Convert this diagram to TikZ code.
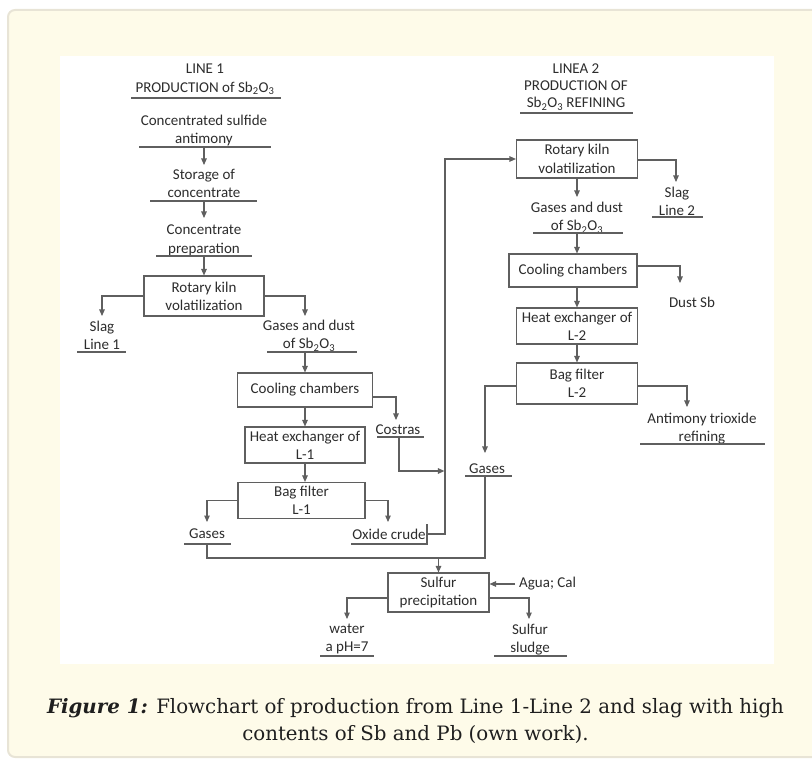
\documentclass[tikz,border=0pt]{standalone}
\usepackage{fontspec}
\setmainfont{Carlito}
\newfontfamily\capfont{DejaVu Serif}
\usetikzlibrary{arrows.meta}
\definecolor{framefill}{RGB}{254,251,233}
\definecolor{frameline}{RGB}{232,228,214}
\definecolor{ln}{RGB}{95,95,95}
\definecolor{tx}{RGB}{45,45,45}
\newcommand{\SbO}{Sb\textsubscript{2}O\textsubscript{3}}
\begin{document}
\begin{tikzpicture}[x=1pt,y=-1pt,
  every node/.style={text=tx, font=\fontsize{15}{18.3}\selectfont, inner sep=0pt},
  lbl/.style={align=center, anchor=north},
  box/.style={draw=ln, line width=1.1pt, align=center},
  conn/.style={draw=ln, line width=1.1pt},
  arr/.style={conn, -{Triangle[length=6.5pt,width=5.5pt]}},
  ul/.style={draw=ln, line width=1.1pt}]
\clip (0,0) rectangle (812,759);
% background
\fill[framefill, draw=frameline, line width=2pt, rounded corners=7pt] (8,10) rectangle (840,757);
\fill[white] (60,56) rectangle (774,664);

% ---------------- LINE 1 ----------------
\node[lbl] (h1) at (205,64) {LINE 1\\PRODUCTION of \SbO};
\draw[ul] (131,98) -- (281,98);

\node[lbl] (n1) at (204,115) {Concentrated sulfide\\antimony};
\draw[ul] (139,147) -- (271,147);
\coordinate (n1u) at (204,147);

\node[lbl] (n2) at (204,169) {Storage of\\concentrate};
\draw[ul] (150,201) -- (257,201);
\coordinate (n2u) at (204,201);

\node[lbl] (n3) at (204,225) {Concentrate\\preparation};
\draw[ul] (156,256) -- (252,256);
\coordinate (n3u) at (204,256);

\node[box, minimum width=120pt, minimum height=40pt] (rk1) at (204,296) {Rotary kiln\\volatilization};

\node[lbl] (slag1) at (102,321) {Slag\\Line 1};
\draw[ul] (77,352) -- (126,352);

\node[lbl] (gd1) at (309,320) {Gases and dust\\of \SbO};
\draw[ul] (267,352) -- (357,352);
\coordinate (gd1u) at (305,352);

\node[box, minimum width=135pt, minimum height=34pt] (cc1) at (305,390) {Cooling chambers};

\node[lbl] (cos) at (398,425) {Costras};
\draw[ul] (377,437) -- (424,437);
\coordinate (cosu) at (399,437);

\node[box, minimum width=120pt, minimum height=36pt] (he1) at (305,445) {Heat exchanger of\\L-1};
\node[box, minimum width=127pt, minimum height=36pt] (bf1) at (301.5,500.5) {Bag filter\\L-1};

\node[lbl] (gasL) at (207,529) {Gases};
\draw[ul] (184,544) -- (231,544);
\coordinate (gasLu) at (207,544);

\node[lbl] (oxc) at (389,529) {Oxide crude};
\draw[ul] (351,544) -- (427,544) -- (427,524);
\coordinate (oxcu) at (427,534);

% ---------------- LINE 2 ----------------
\node[lbl, font=\fontsize{15}{17}\selectfont] (h2) at (576,64) {LINEA 2\\PRODUCTION OF\\\SbO\ REFINING};
\draw[ul] (520,113) -- (633,113);

\node[box, minimum width=121pt, minimum height=38pt] (rk2) at (577,159) {Rotary kiln\\volatilization};

\node[lbl] (slag2) at (677,187) {Slag\\Line 2};
\draw[ul] (652,217) -- (703,217);

\node[lbl] (gd2) at (577,202) {Gases and dust\\of \SbO};
\draw[ul] (533,233) -- (623,233);
\coordinate (gd2u) at (577,233);

\node[box, minimum width=128pt, minimum height=33pt] (cc2) at (573,270.5) {Cooling chambers};

\node[lbl] (dust) at (692,297) {Dust Sb};

\node[box, minimum width=121pt, minimum height=36pt] (he2) at (577,326) {Heat exchanger of\\L-2};
\node[box, minimum width=121pt, minimum height=41pt] (bf2) at (577,383.5) {Bag filter\\L-2};

\node[lbl] (gasR) at (487,464) {Gases};
\draw[ul] (465,476) -- (512,476);
\coordinate (gasRu) at (485,476);

\node[lbl] (atr) at (702,413) {Antimony trioxide\\refining};
\draw[ul] (640,444) -- (765,444);

% ---------------- bottom ----------------
\node[box, minimum width=101pt, minimum height=39pt] (sp) at (438.5,592.5) {Sulfur\\precipitation};
\node[anchor=west] (agua) at (519,584) {Agua; Cal};

\node[lbl] (water) at (347,624) {water\\a pH=7};
\draw[ul] (320,656) -- (374,656);
\node[lbl] (sludge) at (530,624) {Sulfur\\sludge};
\draw[ul] (494,656) -- (567,656);

% ---------------- connectors ----------------
\draw[arr, shorten >=4pt] (n1u) -- (n2.north);
\draw[arr, shorten >=7pt] (n2u) -- (n3.north);
\draw[arr] (n3u) -- (rk1.north);
\draw[arr, shorten >=5pt] (rk1.west) -| (slag1.north);
\draw[arr, shorten >=4pt] (rk1.east) -| ([xshift=-4pt]gd1.north);
\draw[arr] (gd1u) -- (cc1.north);
\draw[arr, shorten >=5pt] ([yshift=-7pt]cc1.east) -| ([xshift=-2pt]cos.north);
\draw[arr] (cc1.south) -- (he1.north);
\draw[arr] (he1.south) -- (he1.south |- bf1.north);
\draw[arr, shorten >=7pt] (bf1.west) -| (gasL.north);
\draw[arr, shorten >=7pt] (bf1.east) -| ([xshift=-1pt]oxc.north);
\coordinate (vx) at (445,534);
\coordinate (cj) at (444.4,471);
\draw[arr] (cosu) |- (cj);
\draw[arr] (oxcu) -- (vx) |- (rk2.west);

\draw[arr, shorten >=5pt] ([yshift=-1pt]rk2.east) -| ([xshift=-1pt]slag2.north);
\draw[arr, shorten >=5pt] (rk2.south) -- (gd2.north);
\draw[arr] (gd2u) -- (gd2u |- cc2.north);
\draw[arr, shorten >=14pt] ([yshift=4.5pt]cc2.east) -| ([xshift=-12pt]dust.north);
\draw[arr] (cc2.south -| he2.north) -- (he2.north);
\draw[arr] (he2.south) -- (bf2.north);
\draw[arr, shorten >=11pt] ([yshift=-2.5pt]bf2.west) -| ([xshift=-2pt]gasR.north);
\draw[arr, shorten >=6pt] ([yshift=-2.5pt]bf2.east) -| ([xshift=-15pt]atr.north);

\coordinate (mj) at (438.5,558);
\draw[conn] (gasLu) |- (mj) -| (gasRu);
\draw[arr] (mj) -- (sp.north);
\draw[arr] ([xshift=-4pt]agua.west) -- (sp.east |- agua.west);
\draw[arr, shorten >=5pt] ([yshift=-5.5pt]sp.west) -| (water.north);
\draw[arr, shorten >=5pt] ([yshift=-5.5pt]sp.east) -| ([xshift=-1pt]sludge.north);

% ---------------- caption ----------------
\node[font=\capfont\fontsize{19.8}{27}\selectfont, text=black!88, align=center] (cap) at (415.5,721)
  {\textbf{\textit{Figure 1:}} Flowchart of production from Line 1-Line 2 and slag with high\\contents of Sb and Pb (own work).};
\end{tikzpicture}
\end{document}
